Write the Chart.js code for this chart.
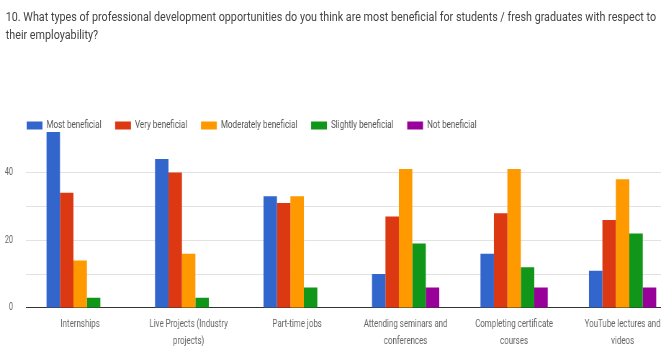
<!DOCTYPE html>
<html>
<head>
<meta charset="utf-8">
<title>Professional development opportunities</title>
<script src="https://cdn.jsdelivr.net/npm/chart.js@4.4.1/dist/chart.umd.min.js"></script>
<style>
  html, body { margin: 0; padding: 0; background: #fff; width: 661px; height: 346px; overflow: hidden; }
  /* the sheet is laid out wide and squeezed horizontally */
  #sheet { position: absolute; left: 0; top: 0; width: 960px; height: 346px; transform: scaleX(0.72); transform-origin: 0 0; }
  #title { position: absolute; left: 8px; top: 8px; white-space: nowrap; font: 13px Roboto, "Liberation Sans", Arial, sans-serif; line-height: 18.3px; color: #444; transform: scaleX(1.15); transform-origin: 0 0; }
  #plot { position: absolute; left: 0; top: 90px; }
</style>
</head>
<body>
<div id="sheet">
  <div id="title">10. What types of professional development opportunities do you think are most beneficial for students / fresh graduates with respect to<br>their employability?</div>
  <canvas id="plot" width="960" height="260"></canvas>
</div>
<script>
const categories = [
  'Internships',
  ['Live Projects (Industry', 'projects)'],
  'Part-time jobs',
  ['Attending seminars and', 'conferences'],
  ['Completing certificate', 'courses'],
  ['YouTube lectures and', 'videos']
];
const mostBeneficial = [52, 44, 33, 10, 16, 11];
const veryBeneficial = [34, 40, 31, 27, 28, 26];
const moderatelyBeneficial = [14, 16, 33, 41, 41, 38];
const slightlyBeneficial = [3, 3, 6, 19, 12, 22];
const notBeneficial = [0, 0, 0, 6, 6, 6];
const labelledTicks = [0, 20, 40];

const FONT = 'Roboto, "Liberation Sans", Arial, sans-serif';
Chart.defaults.font.family = FONT;

// push the legend row right and down after layout
const legendShift = {
  id: 'legendShift',
  afterLayout(chart) {
    const lg = chart.legend;
    lg.left += 18; lg.right += 18;
    lg.top += 11; lg.bottom += 11;
  }
};

const series = [
  { label: 'Most beneficial', data: mostBeneficial, color: '#3366cc' },
  { label: 'Very beneficial', data: veryBeneficial, color: '#dc3912' },
  { label: 'Moderately beneficial', data: moderatelyBeneficial, color: '#ff9900' },
  { label: 'Slightly beneficial', data: slightlyBeneficial, color: '#109618' },
  { label: 'Not beneficial', data: notBeneficial, color: '#990099' }
];

new Chart(document.getElementById('plot'), {
  type: 'bar',
  data: {
    labels: categories,
    datasets: series.map(s => ({
      label: s.label,
      data: s.data,
      backgroundColor: s.color,
      borderWidth: 0,
      categoryPercentage: 0.62,
      barPercentage: 1.0
    }))
  },
  options: {
    responsive: false,
    animation: false,
    layout: { padding: { left: 0, right: 20, top: 0, bottom: 0 } },
    plugins: {
      tooltip: { enabled: false },
      legend: {
        position: 'top',
        align: 'start',
        labels: {
          boxWidth: 22,
          boxHeight: 8,
          padding: 19,
          color: '#555',
          font: { size: 11.2, family: FONT }
        }
      }
    },
    scales: {
      x: {
        grid: { display: false },
        border: { display: true, color: '#333', width: 1 },
        ticks: {
          color: '#666',
          padding: 0,
          maxRotation: 0,
          autoSkip: false,
          font: { size: 11, family: FONT, lineHeight: 1.55 }
        }
      },
      y: {
        min: 0,
        max: 52.5,
        afterBuildTicks(scale) {
          scale.ticks = scale.ticks.filter(t => t.value % 10 === 0);
        },
        afterFit(scale) { scale.width = 36; },
        border: { display: false },
        grid: {
          drawTicks: false,
          color: ctx => ctx.tick && ctx.tick.value === 0 ? '#333' : (ctx.tick && ctx.tick.value === 50 ? '#f0f0f0' : '#e2e2e2')
        },
        ticks: {
          stepSize: 10,
          padding: 18,
          color: '#666',
          font: { size: 10, family: FONT },
          callback: v => labelledTicks.includes(v) ? v : ''
        }
      }
    }
  },
  plugins: [legendShift]
});
</script>
</body>
</html>
